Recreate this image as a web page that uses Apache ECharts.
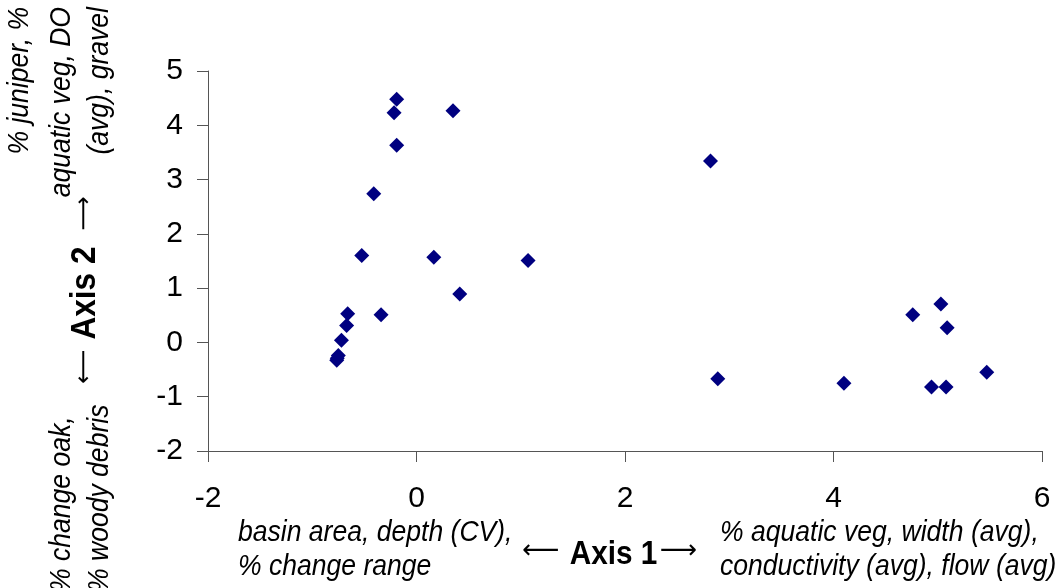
<!DOCTYPE html>
<html>
<head>
<meta charset="utf-8">
<script src="https://cdn.jsdelivr.net/npm/echarts@6/dist/echarts.min.js"></script>
<style>html,body{margin:0;padding:0;background:#fff;}#c{width:1059px;height:588px;}</style>
</head>
<body>
<div id="c"></div>
<script>
// Axis 1 scores
const axis1 = [-0.19, -0.215, 0.35, -0.19, -0.41, -0.525, 0.166, 1.07, 0.415, -0.34, -0.66, -0.67, -0.72, -0.75, -0.765, -0.76, 2.82, 2.89, 4.10, 4.76, 5.03, 5.09, 4.94, 5.08, 5.47];
// Axis 2 scores
const axis2 = [4.48, 4.23, 4.27, 3.63, 2.74, 1.60, 1.57, 1.51, 0.89, 0.51, 0.53, 0.31, 0.04, -0.24, -0.33, -0.29, 3.34, -0.67, -0.75, 0.51, 0.71, 0.27, -0.82, -0.82, -0.55];
const xTicks = {min: -2, max: 6, step: 2};
const yTicks = {min: -2, max: 5, step: 1};
const axis1Low = ['basin area, depth (CV),', '% change range'];
const axis1High = ['% aquatic veg, width (avg),', 'conductivity (avg), flow (avg)'];
const axis2High = ['% juniper, %', 'aquatic veg, DO', '(avg), gravel'];
const axis2Low = ['% change oak,', '% woody debris'];
const axis1Name = 'Axis 1';
const axis2Name = 'Axis 2';

const points = axis1.map((v, i) => [v, axis2[i]]);
const FONT = '"Liberation Sans", Arial, sans-serif';
const ARROWF = '"DejaVu Sans", sans-serif';
const italic = 'italic 29.5px ' + FONT;
const SX = 0.9;

const graphics = [];
function txt(x, y, text, font, align, rot, sx) {
  const g = {type: 'text', x: x, y: y, scaleX: sx, scaleY: 1,
    style: {text: text, font: font, fill: '#000', align: align, verticalAlign: 'middle'}};
  if (rot) g.rotation = Math.PI / 2;
  graphics.push(g);
}
// bottom blocks
axis1Low.forEach((t, i) => txt(238, 533 + i * 34, t, italic, 'left', false, SX));
axis1High.forEach((t, i) => txt(720, 533 + i * 34, t, italic, 'left', false, SX));
// Axis 1 title with arrows
txt(522, 551, '⟵', '26px ' + ARROWF, 'left', false, 1);
txt(613.5, 555, axis1Name, 'bold 33px ' + FONT, 'center', false, SX);
txt(697, 551, '⟶', '26px ' + ARROWF, 'right', false, 1);
// left rotated blocks
const xs = [20, 62, 100];
axis2High.forEach((t, i) => txt(xs[i], 7, t, italic, 'right', true, SX));
axis2Low.forEach((t, i) => txt(xs[i + 1], 592, t, italic, 'left', true, SX));
txt(85, 293, axis2Name, 'bold 35px ' + FONT, 'center', true, SX);
txt(85, 384, '⟵', '24px ' + ARROWF, 'left', true, 1);
txt(85, 196, '⟶', '24px ' + ARROWF, 'right', true, 1);

const axisCommon = {
  axisLine: {show: true, onZero: false, lineStyle: {color: '#555', width: 1}},
  axisTick: {show: true, inside: false, length: 11, lineStyle: {color: '#555', width: 1}},
  splitLine: {show: false},
};
const chart = echarts.init(document.getElementById('c'), null, {renderer: 'canvas'});
chart.setOption({
  animation: false,
  backgroundColor: '#fff',
  grid: {left: 208, right: 17, top: 71, bottom: 137, containLabel: false},
  xAxis: Object.assign({type: 'value', min: xTicks.min, max: xTicks.max, interval: xTicks.step,
    axisLabel: {fontFamily: FONT, fontSize: 30, color: '#000', margin: 33}}, axisCommon),
  yAxis: Object.assign({type: 'value', min: yTicks.min, max: yTicks.max, interval: yTicks.step,
    axisLabel: {fontFamily: FONT, fontSize: 30, color: '#000', margin: 25}}, axisCommon),
  series: [{type: 'scatter', data: points, symbol: 'diamond', symbolSize: 15,
    itemStyle: {color: '#000080', opacity: 1}}],
  graphic: graphics
});
</script>
</body>
</html>
